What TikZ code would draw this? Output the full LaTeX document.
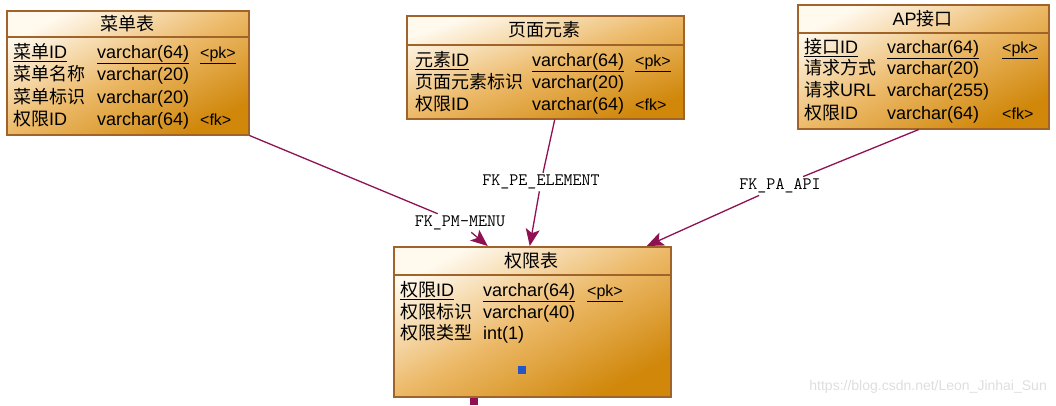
\documentclass[tikz,border=0pt]{standalone}
\usepackage{fontspec}
\setmainfont{Liberation Sans}
\newfontfamily\cjkfont{Noto Sans CJK SC}
\newcommand{\zh}[1]{{\cjkfont #1}}
\newcommand{\tagsz}{\fontsize{16}{18}\selectfont}
\usetikzlibrary{arrows.meta,calc}

\definecolor{erLight}{HTML}{FFF9EE}
\definecolor{erMid}{HTML}{ECB968}
\definecolor{erDark}{HTML}{D0870A}
\definecolor{erLine}{HTML}{A0642A}
\definecolor{fkLine}{HTML}{8E1152}
\definecolor{pkDot}{HTML}{2456C8}

\tikzset{
  entity/.style={draw=erLine, line width=1.5pt, anchor=north west, inner sep=0pt,
    top color=erLight, bottom color=erDark, middle color=erMid, shading angle=27},
  tblhead/.style={inner sep=0pt, font=\fontsize{18}{22}\selectfont},
  cell/.style={anchor=base west, inner sep=0pt, font=\fontsize{18}{22}\selectfont},
  headsep/.style={erLine, line width=1.5pt},
  fk/.style={draw=fkLine, line width=1.3pt, -{Stealth[length=17pt,width=14pt,inset=4pt]}},
  fklabel/.style={fill=white, inner sep=2pt, font=\ttfamily\fontsize{17.5}{20}\selectfont}
}

\begin{document}
\begin{tikzpicture}[x=1pt, y=-1pt]
\useasboundingbox (0,0) rectangle (1056,405);

% entity boxes
\node[entity, minimum width=242pt, minimum height=124pt] (menu) at (6,10) {};
\node[entity, minimum width=277pt, minimum height=103pt, shading angle=20] (pe) at (406,15) {};
\node[entity, minimum width=251pt, minimum height=124pt] (api) at (797,4) {};
\node[entity, minimum width=277pt, minimum height=150pt, shading angle=28] (qx) at (393,246) {};
\draw[headsep] ($(menu.north west)+(0,27)$) -- ($(menu.north east)+(0,27)$);
\draw[headsep] ($(pe.north west)+(0,30)$) -- ($(pe.north east)+(0,30)$);
\draw[headsep] ($(api.north west)+(0,29)$) -- ($(api.north east)+(0,29)$);
\draw[headsep] ($(qx.north west)+(0,29)$) -- ($(qx.north east)+(0,29)$);

% 菜单表
\node[tblhead] (menuT) at (127,23.5) {\zh{菜单表}};
\node[cell] (menuA1) at (13,58.5) {\underline{\zh{菜单}ID}};
\node[cell] (menuB1) at (97,58.5) {\underline{varchar(64)}};
\node[cell] (menuC1) at (200,58.5) {\underline{\tagsz<pk>}};
\node[cell] (menuA2) at (13,80.5) {\zh{菜单名称}};
\node[cell] (menuB2) at (97,80.5) {varchar(20)};
\node[cell] (menuA3) at (13,103.5) {\zh{菜单标识}};
\node[cell] (menuB3) at (97,103.5) {varchar(20)};
\node[cell] (menuA4) at (13,125.5) {\zh{权限}ID};
\node[cell] (menuB4) at (97,125.5) {varchar(64)};
\node[cell] (menuC4) at (200,125.5) {\tagsz<fk>};

% 页面元素
\node[tblhead] (peT) at (544.5,30) {\zh{页面元素}};
\node[cell] (peA1) at (415,66.5) {\underline{\zh{元素}ID}};
\node[cell] (peB1) at (532,66.5) {\underline{varchar(64)}};
\node[cell] (peC1) at (635,66.5) {\underline{\tagsz<pk>}};
\node[cell] (peA2) at (415,88.5) {\zh{页面元素标识}};
\node[cell] (peB2) at (532,88.5) {varchar(20)};
\node[cell] (peA3) at (415,110.5) {\zh{权限}ID};
\node[cell] (peB3) at (532,110.5) {varchar(64)};
\node[cell] (peC3) at (635,110.5) {\tagsz<fk>};

% AP接口
\node[tblhead] (apiT) at (922.5,18.5) {AP\zh{接口}};
\node[cell] (apiA1) at (804,53.5) {\underline{\zh{接口}ID}};
\node[cell] (apiB1) at (887,53.5) {\underline{varchar(64)}};
\node[cell] (apiC1) at (1002,53.5) {\underline{\tagsz<pk>}};
\node[cell] (apiA2) at (804,74.5) {\zh{请求方式}};
\node[cell] (apiB2) at (887,74.5) {varchar(20)};
\node[cell] (apiA3) at (804,96.5) {\zh{请求}URL};
\node[cell] (apiB3) at (887,96.5) {varchar(255)};
\node[cell] (apiA4) at (804,119.5) {\zh{权限}ID};
\node[cell] (apiB4) at (887,119.5) {varchar(64)};
\node[cell] (apiC4) at (1002,119.5) {\tagsz<fk>};

% 权限表
\node[tblhead] (qxT) at (531.5,260.5) {\zh{权限表}};
\node[cell] (qxA1) at (400,296.5) {\underline{\zh{权限}ID}};
\node[cell] (qxB1) at (483,296.5) {\underline{varchar(64)}};
\node[cell] (qxC1) at (587,296.5) {\underline{\tagsz<pk>}};
\node[cell] (qxA2) at (400,318.5) {\zh{权限标识}};
\node[cell] (qxB2) at (483,318.5) {varchar(40)};
\node[cell] (qxA3) at (400,339.5) {\zh{权限类型}};
\node[cell] (qxB3) at (483,339.5) {int(1)};
\fill[pkDot] (518,366) rectangle (526,374);

% references
\node[fklabel] (pmLbl) at (460,223) {FK\_PM-MENU};
\node[fklabel] (peLbl) at (541,182) {FK\_PE\_ELEMENT};
\node[fklabel] (paLbl) at (780,186) {FK\_PA\_API};
\draw[fk] (menu.south east) -- (pmLbl) -- ($(qx.north)+(-44.5,0)$);
\draw[fk] ($(pe.south)+(9.5,0)$) -- (peLbl) -- ($(qx.north)+(-2.5,0)$);
\draw[fk] ($(api.south)+(-4.5,0)$) -- (paLbl) -- ($(qx.north)+(114.5,0)$);
\coordinate (qxOut) at (474,405);
\draw[fkLine, line width=8pt] (qxOut) -- (qxOut |- qx.south);

\node[anchor=east, inner sep=0pt, text=black!13, font=\fontsize{14}{16}\selectfont] (wm) at (1047,387) {https://blog.csdn.net/Leon\_Jinhai\_Sun};
\end{tikzpicture}
\end{document}
